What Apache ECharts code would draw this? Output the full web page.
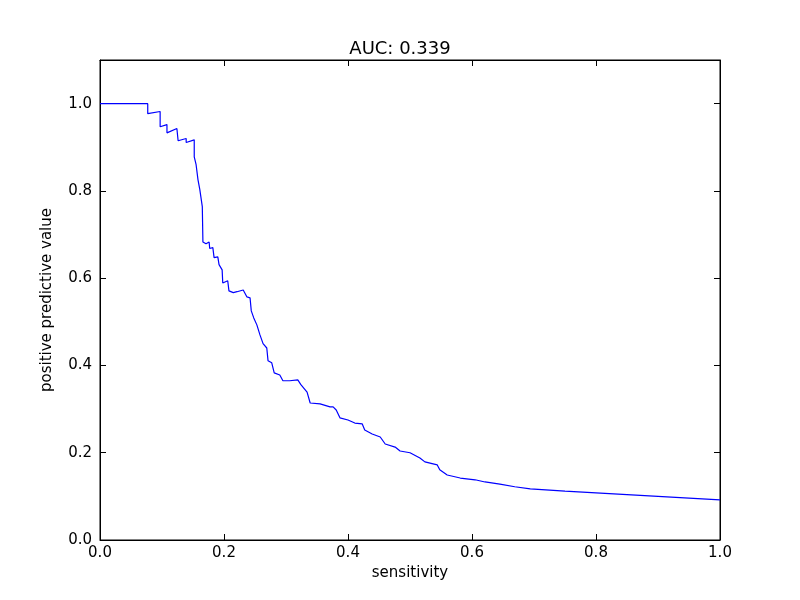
<!DOCTYPE html>
<html><head><meta charset="utf-8">
<script src="https://cdn.jsdelivr.net/npm/echarts@6/dist/echarts.min.js"></script>
<style>html,body{margin:0;background:#fff}#c{width:800px;height:600px}</style>
</head><body><div id="c"></div>
<script>
const sensitivity=[0,0.077,0.077,0.097,0.097,0.108,0.108,0.124,0.126,0.139,0.139,0.152,0.152,0.155,0.158,0.161,0.165,0.166,0.171,0.176,0.177,0.182,0.184,0.190,0.192,0.197,0.198,0.206,0.208,0.215,0.221,0.231,0.237,0.242,0.244,0.248,0.253,0.258,0.263,0.269,0.271,0.277,0.281,0.29,0.295,0.306,0.319,0.324,0.334,0.339,0.355,0.371,0.376,0.381,0.387,0.4,0.411,0.423,0.427,0.439,0.452,0.46,0.476,0.484,0.5,0.516,0.524,0.544,0.548,0.56,0.581,0.605,0.621,0.645,0.669,0.694,0.75,0.75,1.0];
const ppv=[1.0,1.0,0.977,0.982,0.947,0.952,0.933,0.943,0.915,0.92,0.911,0.917,0.878,0.86,0.826,0.803,0.764,0.683,0.679,0.683,0.668,0.670,0.647,0.649,0.631,0.619,0.589,0.594,0.571,0.567,0.569,0.573,0.557,0.555,0.525,0.509,0.493,0.470,0.450,0.44,0.411,0.406,0.383,0.378,0.365,0.365,0.367,0.356,0.339,0.314,0.312,0.305,0.305,0.298,0.28,0.275,0.268,0.266,0.252,0.243,0.236,0.22,0.213,0.204,0.2,0.188,0.179,0.172,0.161,0.149,0.142,0.138,0.133,0.128,0.122,0.117,0.112,0.108,0.092];
const data=sensitivity.map((s,i)=>[s,ppv[i]]);
const ax={axisLine:{show:true,onZero:false,lineStyle:{color:'#000',width:1}},axisTick:{show:true,inside:true,length:6,lineStyle:{color:'#000'}},splitLine:{show:false}};
const lab={color:'#000',fontSize:15,fontFamily:'DejaVu Sans'};
const c=echarts.init(document.getElementById('c'));
c.setOption({
 animation:false,
 title:{text:'AUC: 0.339',left:'center',top:35,textStyle:{fontSize:18,fontWeight:'normal',color:'#000',fontFamily:'DejaVu Sans'}},
 grid:{left:100,right:80,top:60,bottom:60,show:true,borderColor:'#000',borderWidth:1},
 xAxis:[{type:'value',min:0,max:1,interval:0.2,name:'sensitivity',nameLocation:'middle',nameGap:24,nameTextStyle:lab,axisLabel:Object.assign({formatter:v=>v.toFixed(1),margin:6},lab),...ax},
        {type:'value',min:0,max:1,interval:0.2,position:'top',axisLabel:{show:false},...ax}],
 yAxis:[{type:'value',min:0,max:1.1,interval:0.2,name:'positive predictive value',nameLocation:'middle',nameGap:45,nameTextStyle:lab,axisLabel:Object.assign({formatter:v=>v>1.05?'':v.toFixed(1),margin:8},lab),...ax},
        {type:'value',min:0,max:1.1,interval:0.2,position:'right',axisLabel:{show:false},...ax}],
 series:[{type:'line',data:data,showSymbol:false,lineStyle:{color:'#0000ff',width:1.2}}]
});
</script></body></html>
